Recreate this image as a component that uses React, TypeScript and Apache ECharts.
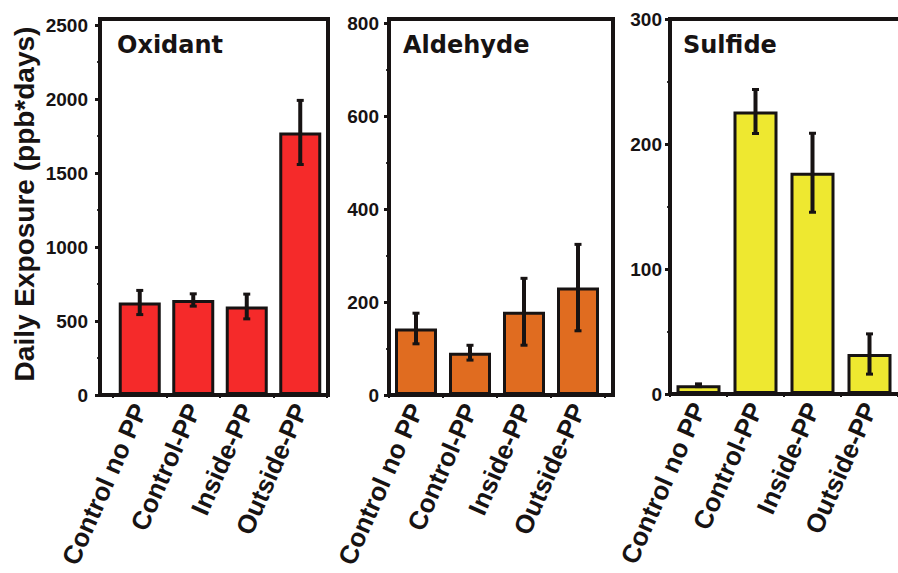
import React, { useEffect, useRef } from "react";
import * as echarts from "echarts";

const categories = ["Control no PP", "Control-PP", "Inside-PP", "Outside-PP"];
const oxidantValues = [625, 642, 598, 1774];
const oxidantErrors = [85, 45, 87, 220];
const aldehydeValues = [143, 91, 179, 231];
const aldehydeErrors = [34, 17, 73, 94];
const sulfideValues = [7, 226, 177, 32];
const sulfideErrors = [1.5, 18, 32, 16.5];
const panelTitles = ["Oxidant", "Aldehyde", "Sulfide"];
const yAxisTitle = "Daily Exposure (ppb*days)";

const INK = "#171313";
const LABEL_FONT = "'Liberation Sans', Arial, Helvetica, sans-serif";
const TITLE_FONT = "'DejaVu Sans', 'Liberation Sans', sans-serif";

const panels = [
  { values: oxidantValues, errors: oxidantErrors, color: "#F52A2A", max: 2500, interval: 500,
    grid: { left: 113, top: 25, width: 214, height: 370 }, offset: 13, labelMargin: 12, barWidth: 42,
    frame: { x: 100, y: 19, w: 228, h: 376 }, titleX: 117 },
  { values: aldehydeValues, errors: aldehydeErrors, color: "#E06C20", max: 800, interval: 200,
    grid: { left: 389, top: 23, width: 216, height: 372 }, offset: 0, labelMargin: 10, barWidth: 42,
    frame: { x: 389, y: 19, w: 224, h: 376 }, titleX: 403 },
  { values: sulfideValues, errors: sulfideErrors, color: "#EEE830", max: 300, interval: 100,
    grid: { left: 670, top: 19, width: 231, height: 375 }, offset: 0, labelMargin: 8, barWidth: 44,
    frame: { x: 670, y: 19, w: 233, h: 375 }, titleX: 683 },
];

export default function App() {
  const ref = useRef<HTMLDivElement>(null);
  useEffect(() => {
    if (!ref.current) return;
    const chart = echarts.init(ref.current, undefined, { renderer: "svg" });
    const grids: any[] = [];
    const xAxes: any[] = [];
    const yAxes: any[] = [];
    const series: any[] = [];
    const graphics: any[] = [];
    panels.forEach((p, k) => {
      grids.push({ ...p.grid, containLabel: false });
      xAxes.push({
        type: "category", gridIndex: k, data: categories,
        axisLine: { show: false },
        axisTick: { show: true, length: 3, lineStyle: { color: INK, width: 2 } },
        axisLabel: {
          interval: 0, rotate: 66, margin: 10, color: INK, fontSize: 26,
          fontWeight: "bold", fontFamily: LABEL_FONT,
        },
      });
      yAxes.push({
        type: "value", gridIndex: k, min: 0, max: p.max, interval: p.interval,
        offset: p.offset,
        axisLine: { show: true, lineStyle: { color: INK, width: 4 } },
        axisTick: { show: true, length: 5, lineStyle: { color: INK, width: 3 } },
        minorTick: { show: true, splitNumber: 2, length: 3, lineStyle: { color: "#333", width: 2 } },
        splitLine: { show: false },
        axisLabel: {
          margin: p.labelMargin, color: INK, fontSize: 19, fontWeight: "bold", fontFamily: LABEL_FONT,
          formatter: (v: number) => String(v),
        },
      });
      series.push({
        type: "bar", xAxisIndex: k, yAxisIndex: k, data: p.values, barWidth: p.barWidth,
        itemStyle: { color: p.color, borderColor: INK, borderWidth: 3 },
      });
      series.push({
        type: "custom", xAxisIndex: k, yAxisIndex: k, z: 5,
        data: p.values.map((v, i) => [i, v - p.errors[i], v + p.errors[i]]),
        encode: { x: 0, y: [1, 2] },
        renderItem: (params: any, api: any) => {
          const i = api.value(0);
          const lo = api.coord([i, api.value(1)]);
          const hi = api.coord([i, api.value(2)]);
          return {
            type: "group",
            children: [
              { type: "line", shape: { x1: lo[0], y1: lo[1], x2: hi[0], y2: hi[1] }, style: { stroke: INK, lineWidth: 4 } },
              { type: "rect", shape: { x: hi[0] - 3.5, y: hi[1] - 1, width: 7, height: 3 }, style: { fill: INK } },
              { type: "rect", shape: { x: lo[0] - 3.5, y: lo[1] - 2, width: 7, height: 3 }, style: { fill: INK } },
            ],
          };
        },
      });
      graphics.push({
        type: "rect", z: 100, shape: { x: p.frame.x, y: p.frame.y, width: p.frame.w, height: p.frame.h },
        style: { fill: "none", stroke: INK, lineWidth: 4 },
      });
      graphics.push({
        type: "text", z: 100, x: p.titleX, y: 45,
        style: { text: panelTitles[k], fill: INK, fontSize: 24, fontWeight: "bold", fontFamily: TITLE_FONT, verticalAlign: "middle", align: "left" },
      });
    });
    graphics.push({
      type: "text", z: 100, x: 24, y: 204, rotation: Math.PI / 2,
      style: { text: yAxisTitle, fill: INK, fontSize: 28, fontWeight: "bold", fontFamily: LABEL_FONT, align: "center", verticalAlign: "middle" },
    });
    chart.setOption({
      animation: false,
      backgroundColor: "#ffffff",
      grid: grids,
      xAxis: xAxes,
      yAxis: yAxes,
      series,
      graphic: graphics,
    });
    return () => chart.dispose();
  }, []);
  return <div ref={ref} style={{ position: "fixed", left: 0, top: 0, width: 898, height: 573 }} />;
}
